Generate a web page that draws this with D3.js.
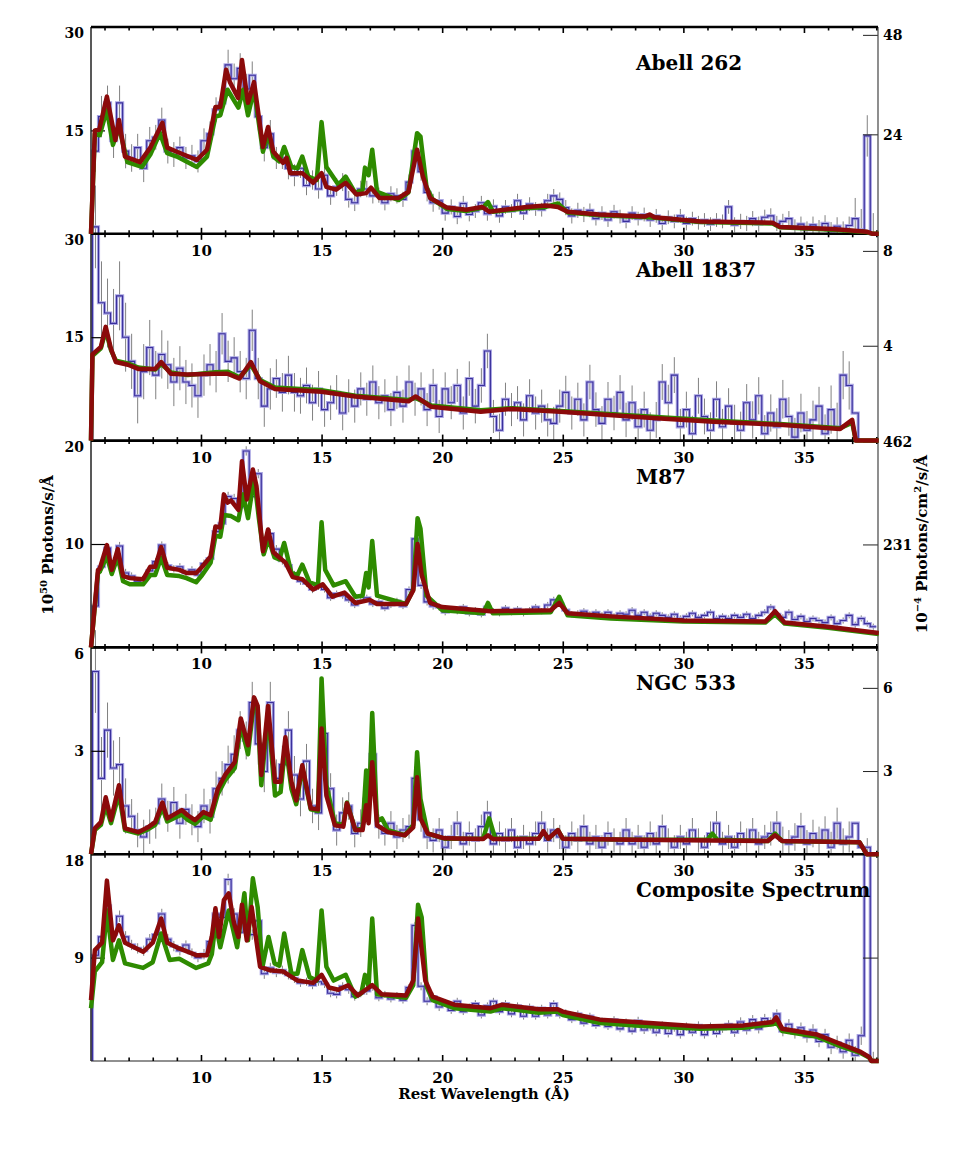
<!DOCTYPE html>
<html>
<head>
<meta charset="utf-8">
<script src="https://cdn.jsdelivr.net/npm/d3@7"></script>
<style>
body { margin: 0; background: #fff; }
text { font-family: "DejaVu Serif", serif; font-weight: bold; fill: #000; }
</style>
</head>
<body>
<div id="chart"></div>
<script>
// binned spectra: 0.25 A bins starting at 5.5 A, one row per Angstrom
var binStart = 5.5, binWidth = 0.25;

var panelNames = ["Abell 262", "Abell 1837", "M87", "NGC 533", "Composite Spectrum"];
var leftMax = [30, 30, 20, 6, 18];
var leftTicks = [[15, 30], [15, 30], [10, 20], [3, 6], [9, 18]];
var rightMax = [49.9, 8.72, 464, 7.46, 18];
var rightTicks = [[24, 48], [4, 8], [231, 462], [3, 6], [9]];
var rightLabels = [true, true, true, true, false];
var xLabels = [10, 15, 20, 25, 30, 35];
var xMinor = [6,7,8,9,10,11,12,13,14,15,16,17,18,19,20,21,22,23,24,25,26,27,28,29,30,31,32,33,34,35,36,37,38];

// ---- Abell 262 ----
var a262Data = [
  12, 17, 19, 13.5,
  19, 12, 11, 12.5,
  9.5, 13.5, 14, 16.5,
  12, 11.5, 12.5, 11,
  11.3, 10.5, 13.5, 14.5,
  18, 19, 24.5, 22.5,
  24, 21, 23, 17,
  12.5, 14.5, 11, 11,
  9.5, 8.5, 9.5, 7,
  7.8, 6.5, 8.5, 5.5,
  6.8, 7.5, 5, 4.5,
  6.5, 6.5, 5.5, 5.6,
  4.5, 5.8, 5.5, 5.0,
  7.5, 12, 9, 6,
  4.5, 4.8, 3, 3.9,
  2.5, 4.4, 2.8, 3.3,
  4.5, 2.9, 4.0, 2.6,
  3.9, 3.3, 4.8, 3.0,
  4.3, 3.6, 3.5, 4.8,
  5.5, 5.0, 3.8, 2.6,
  3.4, 2.8, 3.4, 2.2,
  3.0, 2.0, 3.2, 2.5,
  1.8, 3.0, 2.2, 2.8,
  2.0, 2.6, 1.5, 2.4,
  1.8, 2.6, 1.5, 2.2,
  1.6, 2.0, 1.4, 2.0,
  1.8, 3.9, 1.3, 1.8,
  1.5, 2.2, 1.4, 2.4,
  2.6, 1.5, 1.8, 2.2,
  1.0, 1.4, 0.6, 1.3,
  0.8, 1.5, 0.4, 1.1,
  0.5, 1.2, 2.2, 0.6,
  14.2, 0
];
// one error per Angstrom, 5..37
var a262Err = [3, 2.5, 2, 1.8, 1.6, 1.8, 2.2, 2, 1.6, 1.4, 1.3, 1.2, 1.1, 1.1, 1.3, 1.1, 1.0,
  1.0, 1.0, 1.0, 1.1, 1.0, 1.0, 1.0, 1.0, 1.0, 1.0, 1.1, 1.1, 1.1, 1.2, 1.3, 3];
var a262Red = [[5.44,0],[5.6,15],[5.78,15.1],[6.1,19.9],[6.45,13.6],[6.6,16.5],[6.85,11.2],[7.47,10.4],
  [7.9,12.5],[8.4,16.1],[8.6,12.5],[9.0,11.9],[9.83,10.7],[10.25,12.2],[10.6,18.4],[10.8,18.4],
  [11.04,23.8],[11.2,22.0],[11.54,19.7],[11.7,25.2],[11.95,19.0],[12.2,22.0],[12.57,12.6],[12.78,15.5],
  [13.0,11.9],[13.4,10.3],[13.55,11.0],[13.7,8.8],[14.2,8.8],[14.65,7.4],[15.0,8.8],[15.2,6.8],
  [15.6,6.4],[16.0,7.4],[16.45,5.7],[16.85,5.9],[17.05,6.7],[17.4,5.2],[18.2,5.2],[18.6,6.1],
  [18.96,12.2],[19.2,8.3],[19.5,5.2],[20.2,3.8],[21.0,3.5],[21.65,3.9],[21.95,3.2],[23.5,3.9],
  [24.3,4.1],[24.8,3.9],[25.2,3.2],[26.5,2.8],[28.4,2.5],[28.6,2.8],[28.8,2.4],[30.7,1.8],
  [33.7,1.6],[34.0,1.0],[36.2,0.7],[37.6,0.3],[37.85,0],[38.1,0]];
var a262Green = [[5.44,0],[5.6,14.5],[5.8,14.3],[6.1,18.0],[6.35,12.9],[6.6,15.5],[6.95,10.4],[7.55,9.7],
  [7.9,11.5],[8.3,14.6],[8.6,11.7],[9.0,11.2],[9.83,9.7],[10.25,11.2],[10.6,17.0],[10.8,17.2],
  [11.1,20.9],[11.55,18.3],[11.75,20.9],[11.95,17.2],[12.2,20.9],[12.57,11.9],[12.78,14.6],[13.0,11.2],
  [13.25,10.5],[13.45,12.6],[13.75,9.7],[14.0,9.5],[14.2,11.2],[14.45,8.3],[14.8,7.8],[15.0,16.2],
  [15.2,9.7],[15.7,7.1],[16.0,8.3],[16.4,5.9],[16.7,6.4],[16.8,9.6],[16.95,8.5],[17.1,12.2],
  [17.3,6.1],[18.2,4.9],[18.6,6.0],[18.96,14.6],[19.1,14.1],[19.35,6.8],[19.6,5.0],[20.2,3.6],
  [21.0,3.3],[21.7,3.8],[21.9,4.6],[22.1,3.2],[23.5,3.7],[24.3,3.9],[24.8,4.4],[25.2,3.1],
  [26.5,2.7],[28.6,2.4],[30.7,1.7],[33.7,1.5],[34.0,0.95],[36.2,0.6],[37.6,0.25],[37.85,0],[38.1,0]];

// ---- Abell 1837 ----
var a1837Data = [
  31, 20, 18.5, 17,
  21, 15, 11.5, 6.5,
  10, 13.5, 9.5, 12.5,
  11, 8.5, 10.5, 8.5,
  8, 6.5, 9.5, 11,
  10, 15.5, 11.5, 12,
  10, 9, 16, 9,
  5, 7.5, 9, 7,
  9.5, 7, 6.5, 8,
  5.5, 7.5, 4.5, 5.5,
  7, 4, 6.5, 5,
  7.5, 6, 8.5, 5.5,
  6.5, 4.5, 7, 5,
  8.5, 6, 7.5, 4.5,
  8, 3.5, 7.5, 5.5,
  8, 4, 9, 5,
  8, 13, 3.5, 1.5,
  6, 4.5, 5.5, 3,
  6.5, 4, 5, 3,
  2.5, 5, 7, 4,
  6, 3, 8.5, 4.5,
  2.5, 6, 4, 7,
  3, 5.5, 2, 4.5,
  1.5, 3, 8.5, 5.5,
  9.5, 2, 4.5, 1,
  6.5, 3.5, 1.5, 6,
  2, 5, 2.5, 1.5,
  5.5, 3, 6.5, 1,
  4, 2, 6, 3.5,
  0.5, 4, 1.5, 3,
  5, 1, 4.5, 2,
  9.5, 8, 4, 0,
  0, 0
];
var a1837Err = [6, 5, 4, 3.5, 3.2, 3, 3, 3, 2.8, 2.6, 2.5, 2.4, 2.4, 2.4, 2.4, 2.4, 2.5,
  2.4, 2.4, 2.4, 2.4, 2.5, 2.5, 2.6, 2.6, 2.6, 2.6, 2.7, 2.7, 2.8, 2.8, 3.5, 0];
var a1837Red = [[5.44,0],[5.5,12.5],[5.85,13.6],[6.05,16.5],[6.27,13.3],[6.47,11.4],[6.97,11.0],[7.4,10.4],
  [8.1,10.4],[8.35,11.4],[8.75,9.7],[9.45,9.6],[10.6,9.7],[11.1,9.7],[11.6,9.0],[12.07,11.4],
  [12.45,8.6],[13.07,7.5],[15.0,7.1],[16.4,6.4],[18.6,5.7],[18.9,6.4],[19.55,4.9],[21.6,4.2],
  [22.9,4.6],[24.9,4.2],[29.05,3.2],[31.25,2.75],[34.0,2.3],[36.5,1.7],[37.0,3.0],[37.15,0],[38.1,0]];
var a1837Green = [[5.44,0],[5.5,12.3],[5.85,13.4],[6.05,16.0],[6.27,13.1],[6.47,11.6],[6.97,11.2],[7.4,10.6],
  [8.1,10.3],[8.35,11.1],[8.75,9.9],[9.45,9.5],[10.6,9.9],[11.1,10.0],[11.6,9.2],[12.07,11.0],
  [12.45,8.8],[13.07,7.7],[15.0,7.3],[16.4,6.5],[18.6,5.9],[18.9,6.2],[19.55,5.1],[21.6,4.4],
  [22.9,4.7],[24.9,4.3],[29.05,3.4],[31.25,2.9],[34.0,2.4],[36.5,1.8],[37.0,2.6],[37.15,0],[38.1,0]];

// ---- M87 ----
var m87Data = [
  4, 7.8, 9.6, 8.0,
  9.8, 7.2, 6.9, 6.4,
  6.6, 7.4, 8.3, 9.9,
  7.9, 7.6, 7.8, 7.2,
  7.5, 7.0, 8.1, 8.6,
  11.2, 12.0, 14.6, 14.4,
  13.6, 19.0, 14.6, 16.8,
  10.0, 11.0, 9.5, 8.4,
  7.9, 7.0, 6.4, 6.2,
  5.6, 5.9, 5.6, 4.8,
  5.2, 5.0, 4.6, 4.1,
  4.5, 4.8, 4.2, 4.4,
  3.8, 4.1, 4.5, 4.0,
  5.6, 10.5, 6.0, 4.4,
  4.0, 3.9, 3.4, 3.7,
  3.5, 3.9, 3.3, 3.6,
  3.2, 3.9, 3.5, 3.3,
  3.8, 3.4, 3.7, 3.3,
  3.6, 3.9, 3.5, 4.1,
  4.6, 4.2, 3.6, 3.2,
  3.3, 3.5, 3.2, 3.4,
  3.1, 3.4, 3.0, 3.3,
  3.2, 3.6, 3.1, 3.4,
  3.0, 3.3, 3.1, 2.9,
  3.2, 2.8, 3.0, 3.3,
  2.9, 3.1, 3.4, 2.8,
  3.0, 2.8, 3.1, 2.9,
  3.2, 2.8, 3.1, 3.4,
  3.9, 3.2, 2.9, 3.4,
  2.7, 3.0, 2.5, 2.8,
  2.6, 2.4, 2.9, 2.3,
  2.6, 3.1, 2.2, 2.8,
  2.3, 2.0
];
var m87Err = [0.6, 0.4, 0.35, 0.35, 0.35, 0.4, 0.45, 0.45, 0.4, 0.35, 0.3, 0.3, 0.3, 0.3, 0.35, 0.3, 0.3,
  0.3, 0.3, 0.3, 0.3, 0.3, 0.3, 0.3, 0.3, 0.3, 0.3, 0.3, 0.3, 0.3, 0.3, 0.3, 0.3];
var m87Red = [[5.44,0],[5.73,7.5],[5.8,7.6],[6.1,9.9],[6.3,7.5],[6.55,9.5],[6.77,6.9],[7.05,6.7],
  [7.6,6.6],[7.9,7.8],[8.1,7.8],[8.35,9.7],[8.6,7.7],[9.1,7.5],[9.4,7.2],[9.8,7.2],
  [10.05,7.8],[10.4,8.8],[10.6,11.7],[10.8,11.6],[10.95,14.8],[11.1,14.0],[11.25,14.2],[11.55,13.3],
  [11.7,18.0],[11.9,14.3],[12.15,17.2],[12.3,15.6],[12.57,9.3],[12.78,11.4],[13.0,9.2],[13.5,8.2],
  [13.8,6.8],[14.2,6.6],[14.65,5.6],[15.05,6.1],[15.45,4.9],[15.95,5.3],[16.4,4.3],[17.0,4.6],
  [17.3,4.2],[18.5,4.2],[18.8,5.5],[18.98,10.0],[19.15,7.0],[19.5,4.3],[20.0,3.9],[22.0,3.5],
  [24.5,3.6],[24.85,4.3],[25.2,3.3],[27.0,3.0],[30.0,2.6],[33.4,2.5],[33.8,3.5],[34.2,2.4],
  [36.0,2.0],[38.1,1.4]];
var m87Green = [[5.44,0],[5.73,7.2],[5.8,7.3],[6.1,8.8],[6.3,7.1],[6.55,8.8],[6.77,6.4],[7.05,6.1],
  [7.6,6.1],[7.9,7.0],[8.1,7.0],[8.35,8.7],[8.6,7.0],[9.1,6.9],[9.4,6.7],[9.8,6.3],
  [10.05,7.0],[10.4,8.2],[10.6,10.8],[10.8,10.7],[10.95,12.8],[11.25,12.7],[11.55,12.3],[11.75,14.8],
  [11.95,12.5],[12.2,16.4],[12.4,12.5],[12.6,9.0],[12.8,10.5],[13.05,8.7],[13.25,8.5],[13.45,10.1],
  [13.75,7.2],[14.0,7.0],[14.2,8.0],[14.5,6.3],[14.85,6.0],[15.0,12.1],[15.15,7.5],[15.5,6.0],
  [16.0,6.4],[16.4,4.9],[16.7,5.0],[16.85,7.2],[16.95,5.8],[17.1,10.3],[17.3,5.0],[18.5,4.2],
  [18.8,5.6],[18.98,12.5],[19.1,11.5],[19.35,5.0],[20.0,3.6],[21.7,3.3],[21.9,4.3],[22.1,3.3],
  [24.5,3.4],[24.85,4.9],[25.2,3.1],[27.0,2.8],[30.0,2.5],[33.4,2.4],[33.8,3.2],[34.2,2.3],
  [36.0,1.9],[38.1,1.3]];

// ---- NGC 533 ----
var n533Data = [
  5.3, 2.2, 3.6, 2.5,
  2.6, 1.4, 1.1, 0.7,
  0.5, 0.8, 0.9, 1.6,
  1.1, 1.5, 0.9, 1.3,
  1.0, 0.8, 1.4, 1.1,
  1.9, 2.2, 2.6, 2.9,
  3.6, 3.3, 4.4, 3.2,
  2.4, 4.4, 2.2, 2.6,
  3.6, 2.3, 1.6, 2.7,
  1.4, 1.2, 3.5, 1.9,
  0.7, 1.2, 1.4, 0.6,
  0.9, 1.6, 2.9, 0.8,
  0.6, 0.9, 0.5, 0.7,
  0.8, 2.2, 1.0, 0.5,
  0.4, 0.7, 0.2, 0.5,
  0.9, 0.3, 0.6, 0.4,
  0.8, 1.2, 0.3, 0.6,
  0.4, 0.7, 0.2, 0.5,
  0.3, 0.6, 0.9, 0.4,
  0.7, 0.5, 0.2, 0.6,
  0.4, 0.8, 0.3, 0.5,
  0.2, 0.6, 0.4, 0.3,
  0.7, 0.3, 0.5, 0.2,
  0.6, 0.3, 0.8, 0.4,
  0.2, 0.5, 0.3, 0.7,
  0.4, 0.2, 0.6, 0.9,
  0.3, 0.5, 0.2, 0.6,
  0.4, 0.7, 0.3, 0.5,
  0.6, 0.9, 0.4, 0.3,
  0.5, 0.8, 0.3, 0.6,
  0.4, 0.7, 0.2, 0.9,
  0.3, 0.5, 0.9, 0.2,
  0, 0
];
var n533Err = [1.2, 0.8, 0.5, 0.45, 0.45, 0.5, 0.55, 0.6, 0.55, 0.5, 0.45, 0.4, 0.35, 0.35, 0.35, 0.35, 0.35,
  0.35, 0.35, 0.35, 0.35, 0.35, 0.35, 0.35, 0.35, 0.35, 0.35, 0.35, 0.35, 0.4, 0.4, 0.45, 0];
var n533Red = [[5.44,0],[5.6,0.75],[5.85,0.93],[6.05,1.65],[6.27,0.99],[6.6,2.0],[6.85,0.75],[7.4,0.64],
  [7.8,0.78],[8.1,0.93],[8.4,1.5],[8.6,1.04],[9.2,1.28],[9.45,1.13],[9.75,0.99],[10.1,1.22],
  [10.4,1.13],[10.7,1.9],[11.0,2.3],[11.4,2.67],[11.65,3.94],[11.95,3.16],[12.2,4.55],[12.35,4.3],
  [12.5,2.3],[12.78,4.3],[13.07,2.1],[13.3,2.1],[13.5,3.39],[13.75,2.1],[13.95,1.56],[14.2,2.58],
  [14.55,1.33],[14.85,1.3],[15.0,3.65],[15.2,1.7],[15.55,0.84],[15.9,0.8],[16.05,1.48],[16.4,0.7],
  [16.7,0.7],[16.85,1.42],[16.95,0.9],[17.1,2.67],[17.3,0.84],[17.75,0.64],[18.45,0.55],[18.8,0.78],
  [18.96,2.23],[19.1,1.04],[19.4,0.6],[20.1,0.46],[21.7,0.44],[21.9,0.55],[22.1,0.44],[24.0,0.45],
  [24.2,0.67],[24.4,0.45],[24.8,0.7],[25.0,0.45],[28.0,0.42],[33.5,0.38],[33.8,0.55],[34.1,0.38],
  [37.3,0.35],[37.6,0],[38.1,0]];
var n533Green = [[5.44,0],[5.6,0.7],[5.85,0.85],[6.05,1.4],[6.27,0.9],[6.6,1.75],[6.85,0.7],[7.4,0.6],
  [7.8,0.72],[8.1,0.85],[8.4,1.35],[8.6,0.95],[9.2,1.15],[9.45,1.0],[9.75,0.88],[10.1,1.1],
  [10.4,1.0],[10.7,1.75],[11.0,2.15],[11.4,2.5],[11.65,3.75],[11.95,2.9],[12.2,4.45],[12.35,4.2],
  [12.5,2.0],[12.78,4.1],[13.07,1.7],[13.3,1.8],[13.5,3.2],[13.75,1.9],[13.95,1.45],[14.2,2.5],
  [14.55,1.3],[14.85,1.25],[15.0,5.1],[15.2,2.0],[15.55,0.9],[15.9,0.85],[16.05,1.5],[16.4,0.7],
  [16.7,0.75],[16.85,2.43],[16.95,1.1],[17.1,4.1],[17.3,0.95],[17.5,1.04],[17.75,0.7],[18.45,0.55],
  [18.8,0.85],[18.96,2.96],[19.1,1.6],[19.4,0.6],[20.1,0.45],[21.7,0.45],[21.95,1.04],[22.2,0.45],
  [24.0,0.45],[24.2,0.65],[24.4,0.45],[24.8,0.7],[25.0,0.45],[28.0,0.42],[31.0,0.42],[31.2,0.6],
  [31.4,0.42],[33.5,0.38],[33.8,0.6],[34.1,0.38],[37.3,0.35],[37.6,0],[38.1,0]];

// ---- Composite ----
var compData = [
  9.2, 10.8, 13.5, 11.0,
  12.6, 10.8, 10.1, 9.8,
  9.6, 10.6, 11.0, 12.8,
  10.6, 10.0, 9.6, 10.1,
  9.4, 9.0, 9.3, 10.4,
  12.8, 12.5, 15.8, 12.8,
  11.2, 12.8, 11.0, 12.2,
  7.6, 8.1, 7.7, 7.9,
  7.5, 7.2, 6.8, 6.9,
  6.6, 6.9, 6.7, 5.9,
  5.8, 6.5, 6.2, 5.6,
  5.9, 6.1, 6.4, 5.5,
  5.8, 5.4, 5.7, 5.3,
  6.4, 11.8, 6.5, 5.2,
  5.6, 4.7, 5.1, 4.4,
  5.2, 4.3, 4.7, 5.0,
  4.0, 4.8, 5.2, 4.3,
  5.0, 4.1, 4.8, 3.9,
  4.7, 3.9, 4.6, 4.0,
  5.0, 4.0, 4.2, 3.6,
  4.1, 3.3, 3.9, 3.1,
  3.5, 3.0, 3.6, 2.8,
  3.4, 2.6, 3.5, 2.7,
  3.0, 2.5, 3.1, 2.4,
  2.9, 2.3, 3.0, 2.5,
  3.1, 2.3, 3.0, 2.4,
  2.8, 3.2, 2.5, 3.4,
  2.7, 3.6, 2.8, 3.7,
  3.4, 4.1, 2.6, 3.2,
  2.4, 2.9, 2.1, 2.7,
  1.7, 2.3, 1.2, 1.6,
  0.8, 1.8, 0.5, 2.2,
  18.6, 0
];
var compErr = [0.6, 0.5, 0.45, 0.45, 0.4, 0.45, 0.5, 0.45, 0.4, 0.35, 0.35, 0.35, 0.3, 0.3, 0.35, 0.3, 0.3,
  0.3, 0.3, 0.3, 0.3, 0.3, 0.3, 0.35, 0.35, 0.35, 0.35, 0.4, 0.4, 0.45, 0.5, 0.6, 0.8];
var compRed = [[5.44,5.3],[5.6,9.65],[5.9,10.3],[6.1,15.7],[6.35,10.5],[6.6,11.8],[6.85,10.3],[7.6,9.5],
  [8.0,10.3],[8.35,12.4],[8.6,10.3],[9.1,9.8],[9.83,9.2],[10.25,9.2],[10.45,10.8],[10.6,13.3],
  [10.75,10.8],[10.95,14.0],[11.15,14.6],[11.37,12.0],[11.55,10.8],[11.7,13.6],[11.9,10.5],[12.1,13.4],
  [12.45,8.2],[12.85,7.9],[13.4,7.8],[14.0,7.0],[14.65,6.8],[15.0,7.5],[15.3,6.4],[15.7,6.2],
  [16.1,6.6],[16.5,5.7],[17.1,6.6],[17.5,5.8],[18.5,5.7],[18.8,7.0],[19.0,12.4],[19.3,7.0],
  [19.6,5.6],[20.5,4.9],[22.0,4.6],[22.5,4.9],[24.0,4.5],[24.8,4.5],[25.0,4.3],[26.55,3.6],
  [28.0,3.4],[30.7,3.0],[32.5,3.1],[33.7,3.4],[33.85,3.8],[34.1,2.8],[35.55,2.3],[36.5,1.5],
  [37.35,0.8],[37.7,0.35],[37.8,0],[38.1,0]];
var compGreen = [[5.44,4.6],[5.6,7.8],[5.9,8.6],[6.1,13.1],[6.35,8.8],[6.6,10.5],[6.85,8.5],[7.6,8.1],
  [8.0,8.6],[8.35,11.1],[8.7,8.8],[9.1,8.9],[9.8,8.1],[10.3,8.5],[10.45,9.3],[10.6,12.0],
  [10.8,9.9],[11.15,13.1],[11.5,9.9],[11.8,14.6],[11.95,10.5],[12.15,15.9],[12.35,13.4],[12.55,8.2],
  [12.8,10.8],[13.05,8.5],[13.25,8.3],[13.45,11.1],[13.75,7.6],[14.0,7.6],[14.2,9.65],[14.5,7.3],
  [14.8,7.0],[15.0,13.1],[15.2,8.2],[15.5,7.0],[16.0,7.5],[16.4,5.6],[16.65,5.9],[16.8,7.5],
  [16.95,6.5],[17.1,12.4],[17.3,5.8],[18.5,5.5],[18.8,6.6],[19.0,13.6],[19.15,12.5],[19.35,6.5],
  [19.6,5.3],[20.5,4.6],[22.0,4.3],[22.5,4.6],[24.0,4.2],[24.8,4.3],[25.0,4.0],[26.55,3.3],
  [28.0,3.1],[30.7,2.8],[32.5,2.9],[33.7,3.2],[33.85,3.4],[34.1,2.6],[35.55,2.1],[36.5,1.3],
  [37.35,0.7],[37.7,0.3],[37.8,0],[38.1,0]];

var panelData = [a262Data, a1837Data, m87Data, n533Data, compData];
var panelErr = [a262Err, a1837Err, m87Err, n533Err, compErr];
var panelRed = [a262Red, a1837Red, m87Red, n533Red, compRed];
var panelGreen = [a262Green, a1837Green, m87Green, n533Green, compGreen];

//Helper variables
var width = 969, height = 1176;
var left = 91, right = 878, top0 = 27, panelH = 206.8;

var x = d3.scaleLinear().domain([5.44, 38.07]).range([left, right]);

var svg = d3.select("#chart").append("svg")
    .attr("width", width)
    .attr("height", height);

var dataLayer = svg.append("g"),
    frameLayer = svg.append("g"),
    modelLayer = svg.append("g"),
    textLayer = svg.append("g");

var modelLine = function(y) {
    return d3.line().x(function(d) { return x(d[0]); }).y(function(d) { return y(d[1]); });
};

panelNames.forEach(function(name, i) {
    var top = top0 + i * panelH, bottom = top + panelH;
    var y = d3.scaleLinear().domain([0, leftMax[i]]).range([bottom, top]);
    var yR = d3.scaleLinear().domain([0, rightMax[i]]).range([bottom, top]);

    var bins = panelData[i].map(function(v, k) {
        var lo = binStart + k * binWidth;
        return {lo: lo, v: v, e: panelErr[i][Math.floor(lo + binWidth / 2) - 5]};
    });

    //error bars
    dataLayer.append("g").selectAll("line")
        .data(bins.filter(function(b) { return b.e > 0; }))
        .enter().append("line")
        .attr("x1", function(b) { return x(b.lo + binWidth / 2); })
        .attr("x2", function(b) { return x(b.lo + binWidth / 2); })
        .attr("y1", function(b) { return y(Math.max(0, b.v - b.e)); })
        .attr("y2", function(b) { return y(b.v + b.e); })
        .attr("stroke", "#555")
        .attr("stroke-opacity", 0.75)
        .attr("stroke-width", 1);

    //histogram
    var last = bins[bins.length - 1];
    var steps = [[bins[0].lo, 0]].concat(bins.map(function(b) { return [b.lo, b.v]; }))
        .concat([[last.lo + binWidth, last.v]]);
    var stepLine = d3.line().curve(d3.curveStepAfter)
        .x(function(d) { return x(d[0]); }).y(function(d) { return y(d[1]); });
    dataLayer.append("path").datum(steps)
        .attr("d", stepLine).attr("fill", "none")
        .attr("stroke", "#a9a5e2").attr("stroke-width", 3.2);
    dataLayer.append("path").datum(steps)
        .attr("d", stepLine).attr("fill", "none")
        .attr("stroke", "#3a2f9c").attr("stroke-width", 1.1);

    //models
    modelLayer.append("path").datum(panelGreen[i])
        .attr("d", modelLine(y)).attr("fill", "none")
        .attr("stroke", "#2e8b00").attr("stroke-width", 4.5)
        .attr("stroke-linejoin", "round");
    modelLayer.append("path").datum(panelRed[i])
        .attr("d", modelLine(y)).attr("fill", "none")
        .attr("stroke", "#8b0a0a").attr("stroke-width", 4.5)
        .attr("stroke-linejoin", "round");

    //left axis
    var gl = frameLayer.append("g").attr("transform", "translate(" + left + ",0)")
        .call(d3.axisLeft(y).tickValues(leftTicks[i]).tickSizeInner(-14).tickSizeOuter(0).tickPadding(7)
            .tickFormat(d3.format("d")));
    gl.attr("font-family", null).attr("font-size", null);
    gl.select(".domain").remove();
    gl.selectAll(".tick line").attr("stroke", "#000").attr("stroke-width", 1.2);
    gl.selectAll(".tick text").style("font-size", "14px")
        .attr("dy", function(d) { return d === leftMax[i] ? "0.78em" : "0.34em"; });

    //right axis
    var gr = frameLayer.append("g").attr("transform", "translate(" + right + ",0)")
        .call(d3.axisRight(yR).tickValues(rightTicks[i]).tickSizeInner(-15).tickSizeOuter(0).tickPadding(5)
            .tickFormat(function(d) { return rightLabels[i] ? d : ""; }));
    gr.attr("font-family", null).attr("font-size", null);
    gr.select(".domain").remove();
    gr.selectAll(".tick line").attr("stroke", "#222").attr("stroke-width", 1);
    gr.selectAll(".tick text").style("font-size", "14px").attr("dy", "0.34em");

    //panel title
    textLayer.append("text")
        .attr("x", 636).attr("y", top + 43)
        .style("font-size", "20px")
        .text(name);
});

//frame lines: thick between panels, thin at the bottom
var boundaries = d3.range(6).map(function(k) { return top0 + k * panelH; });
frameLayer.append("line")
    .attr("x1", left).attr("x2", left).attr("y1", top0).attr("y2", boundaries[5])
    .attr("stroke", "#222").attr("stroke-width", 1.5);
frameLayer.append("line")
    .attr("x1", right).attr("x2", right).attr("y1", top0).attr("y2", boundaries[5])
    .attr("stroke", "#444").attr("stroke-width", 1.2);

boundaries.forEach(function(yb, k) {
    frameLayer.append("line")
        .attr("x1", left).attr("x2", right).attr("y1", yb).attr("y2", yb)
        .attr("stroke", k === 5 ? "#222" : "#000")
        .attr("stroke-width", k === 5 ? 1.2 : 2.6);

    var g = frameLayer.append("g").attr("transform", "translate(0," + yb + ")")
        .call(d3.axisBottom(x).tickValues(xMinor).tickSize(0)
            .tickFormat(function(d) { return (k > 0 && xLabels.indexOf(d) >= 0) ? d : ""; }));
    g.attr("font-family", null).attr("font-size", null);
    g.select(".domain").remove();
    g.selectAll(".tick line")
        .attr("y1", function(d) { return k === 0 ? 0 : -(d % 5 === 0 ? 6 : 3.5); })
        .attr("y2", function(d) { return k === 5 ? 0 : (d % 5 === 0 ? 6 : 3.5); })
        .attr("stroke", "#000").attr("stroke-width", 1.6);
    g.selectAll(".tick text").attr("y", 22).attr("dy", 0).style("font-size", "15px");
});

//axis titles
textLayer.append("text")
    .attr("x", (left + right) / 2 - 0.5).attr("y", 1099)
    .attr("text-anchor", "middle").style("font-size", "15px")
    .text("Rest Wavelength (Å)");

var lt = textLayer.append("text")
    .attr("transform", "translate(53,545) rotate(-90)")
    .attr("text-anchor", "middle").style("font-size", "15px");
lt.append("tspan").text("10");
lt.append("tspan").attr("dy", -6).style("font-size", "10px").text("50");
lt.append("tspan").attr("dy", 6).text(" Photons/s/Å");

var rt = textLayer.append("text")
    .attr("transform", "translate(927,544) rotate(-90)")
    .attr("text-anchor", "middle").style("font-size", "15px");
rt.append("tspan").text("10");
rt.append("tspan").attr("dy", -6).style("font-size", "10px").text("−4");
rt.append("tspan").attr("dy", 6).text(" Photons/cm");
rt.append("tspan").attr("dy", -6).style("font-size", "10px").text("2");
rt.append("tspan").attr("dy", 6).text("/s/Å");
</script>
</body>
</html>
